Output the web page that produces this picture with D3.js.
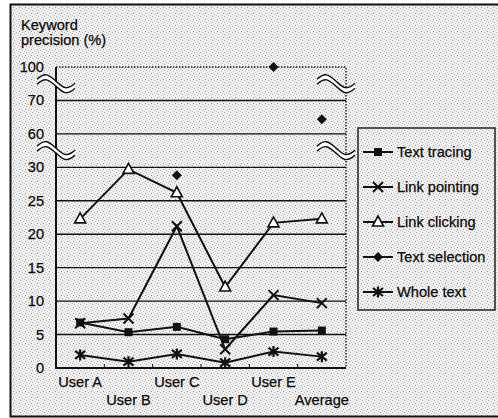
<!DOCTYPE html>
<html>
<head>
<meta charset="utf-8">
<script src="https://cdn.jsdelivr.net/npm/d3@7"></script>
<style>
  body { margin: 0; background: #fff; }
  svg { display: block; font-family: "Liberation Sans", Arial, sans-serif; }
  text { fill: #0a0a0a; font-size: 14.6px; stroke: #0a0a0a; stroke-width: 0.25px; }
</style>
</head>
<body>
<svg></svg>
<script>
'use strict';

// chart data
var categories = ['User A', 'User B', 'User C', 'User D', 'User E', 'Average'];
var yTicks = [0, 5, 10, 15, 20, 25, 30, 60, 70, 100];
var textTracing = [6.8, 5.35, 6.15, 4.3, 5.45, 5.6];
var linkPointing = [6.7, 7.4, 21.2, 2.8, 10.9, 9.7];
var linkClicking = [22.3, 29.7, 26.2, 12.1, 21.7, 22.3];
var textSelection = [null, null, 28.8, null, 100, 64.4];
var wholeText = [1.95, 0.95, 2.1, 0.8, 2.45, 1.7];
var seriesNames = ['Text tracing', 'Link pointing', 'Link clicking', 'Text selection', 'Whole text'];

var series = [
  { name: seriesNames[0], values: textTracing, marker: 'square', line: true },
  { name: seriesNames[1], values: linkPointing, marker: 'cross', line: true },
  { name: seriesNames[2], values: linkClicking, marker: 'triangle', line: true },
  { name: seriesNames[3], values: textSelection, marker: 'diamond', line: false },
  { name: seriesNames[4], values: wholeText, marker: 'star', line: true }
];

var canvasWidth = 498;
var canvasHeight = 418;
var plot = { left: 56, right: 346, top: 67, bottom: 368 };

var svg = d3.select('svg')
  .attr('width', canvasWidth)
  .attr('height', canvasHeight);

// speckled scan background
var pat = svg.append('defs').append('pattern')
  .attr('id', 'speckle')
  .attr('width', 6)
  .attr('height', 6)
  .attr('patternUnits', 'userSpaceOnUse');
pat.append('rect').attr('width', 6).attr('height', 6).attr('fill', '#f1f1f1');
[[1, 1, '#8e8e8e'], [4, 2, '#b8b8b8'], [2, 4, '#a6a6a6'], [5, 5, '#c8c8c8'], [0, 3, '#bdbdbd'], [3, 0, '#d0d0d0']]
  .forEach(function(p) {
    pat.append('rect').attr('x', p[0]).attr('y', p[1]).attr('width', 1).attr('height', 1).attr('fill', p[2]);
  });

svg.append('rect')
  .attr('width', canvasWidth)
  .attr('height', canvasHeight)
  .attr('fill', '#fff');
svg.append('rect')
  .attr('x', 10.5).attr('y', 4.5)
  .attr('width', 492).attr('height', 412)
  .attr('fill', 'url(#speckle)')
  .attr('stroke', '#111')
  .attr('stroke-width', 2);

// scales: broken y axis, each tick is one equal step
var step = (plot.bottom - plot.top) / (yTicks.length - 1);
var yScale = d3.scaleLinear()
  .domain([0, 30, 60, 70, 100])
  .range([plot.bottom, plot.bottom - 6 * step, plot.bottom - 7 * step, plot.bottom - 8 * step, plot.top]);
var xScale = d3.scalePoint()
  .domain(categories)
  .range([plot.left, plot.right])
  .padding(0.5);
var bandW = xScale.step();

// gridlines
svg.append('g')
  .selectAll('line')
  .data(yTicks.filter(function(d) { return d > 0 && d < 100; }))
  .enter().append('line')
  .attr('x1', plot.left).attr('x2', plot.right)
  .attr('y1', function(d) { return yScale(d); })
  .attr('y2', function(d) { return yScale(d); })
  .attr('stroke', '#111')
  .attr('stroke-width', 1.4);

// dotted top and right frame
svg.append('path')
  .attr('d', 'M' + plot.left + ',' + plot.top + 'H' + plot.right + 'V' + plot.bottom)
  .attr('fill', 'none')
  .attr('stroke', '#222')
  .attr('stroke-width', 1.5)
  .attr('stroke-dasharray', '1.5,1.5');

// left and bottom axes
svg.append('path')
  .attr('d', 'M' + plot.left + ',' + plot.top + 'V' + plot.bottom + 'H' + plot.right)
  .attr('fill', 'none')
  .attr('stroke', '#111')
  .attr('stroke-width', 2);

// x tick marks between categories
svg.append('g')
  .selectAll('line')
  .data(categories.slice(1))
  .enter().append('line')
  .attr('x1', function(d) { return xScale(d) - bandW / 2; })
  .attr('x2', function(d) { return xScale(d) - bandW / 2; })
  .attr('y1', plot.bottom)
  .attr('y2', plot.bottom - 4)
  .attr('stroke', '#111')
  .attr('stroke-width', 1);

// y tick labels
svg.append('g')
  .selectAll('text')
  .data(yTicks)
  .enter().append('text')
  .attr('x', 44)
  .attr('y', function(d) { return yScale(d) + 5; })
  .style('text-anchor', 'end')
  .text(function(d) { return d; });

// x labels, staggered in two rows
svg.append('g')
  .selectAll('text')
  .data(categories)
  .enter().append('text')
  .attr('x', function(d) { return xScale(d); })
  .attr('y', function(d, i) { return i % 2 === 0 ? 387 : 405; })
  .style('text-anchor', 'middle')
  .text(function(d) { return d; });

// axis title
svg.append('text').attr('x', 21).attr('y', 30).text('Keyword');
svg.append('text').attr('x', 21).attr('y', 45).text('precision (%)');

// axis break marks
function breakMark(cx, cy) {
  var g = svg.append('g').attr('transform', 'translate(' + cx + ',' + cy + ')');
  var wave = 'M-19,-2 C-10,-10 -7,-6 0,0 S10,10 19,2';
  g.append('path')
    .attr('d', 'M-19,-4 C-10,-12 -7,-8 0,-2 S10,8 19,0 L19,4 C10,12 7,8 0,2 S-10,-8 -19,0 Z')
    .attr('fill', '#fff');
  g.append('path').attr('d', wave).attr('transform', 'translate(0,-2.5)')
    .attr('fill', 'none').attr('stroke', '#111').attr('stroke-width', 1.4);
  g.append('path').attr('d', wave).attr('transform', 'translate(0,2.5)')
    .attr('fill', 'none').attr('stroke', '#111').attr('stroke-width', 1.4);
}
[yScale(85), yScale(45)].forEach(function(y) {
  breakMark(plot.left, y);
  breakMark(plot.right - 10, y);
});

// markers
function drawMarker(g, type) {
  if (type === 'square') {
    g.append('rect').attr('x', -4).attr('y', -4).attr('width', 8).attr('height', 8).attr('fill', '#111');
  } else if (type === 'cross') {
    g.append('path').attr('d', 'M-5,-5L5,5M-5,5L5,-5').attr('stroke', '#111').attr('stroke-width', 2);
  } else if (type === 'triangle') {
    g.append('path').attr('d', 'M0,-6L5.5,4L-5.5,4Z').attr('fill', '#fff').attr('stroke', '#111').attr('stroke-width', 1.6);
  } else if (type === 'diamond') {
    g.append('path').attr('d', 'M0,-5L5,0L0,5L-5,0Z').attr('fill', '#111');
  } else if (type === 'star') {
    g.append('path').attr('d', 'M-5,-4L5,4M-5,4L5,-4M0,-5.5L0,5.5').attr('stroke', '#111').attr('stroke-width', 2.2);
  }
}

var line = d3.line()
  .defined(function(d) { return d !== null; })
  .x(function(d, i) { return xScale(categories[i]); })
  .y(function(d) { return yScale(d); });

series.forEach(function(s) {
  if (s.line) {
    svg.append('path')
      .attr('d', line(s.values))
      .attr('fill', 'none')
      .attr('stroke', '#111')
      .attr('stroke-width', 2);
  }
});
series.forEach(function(s) {
  s.values.forEach(function(v, i) {
    if (v === null) return;
    var g = svg.append('g')
      .attr('transform', 'translate(' + xScale(categories[i]) + ',' + yScale(v) + ')');
    drawMarker(g, s.marker);
  });
});

// legend
var legendBox = { x: 358, y: 128, w: 137, h: 182 };
svg.append('rect')
  .attr('x', legendBox.x).attr('y', legendBox.y)
  .attr('width', legendBox.w).attr('height', legendBox.h)
  .attr('fill', 'url(#speckle)')
  .attr('stroke', '#222')
  .attr('stroke-width', 1.5);

var legend = svg.selectAll('.legend')
  .data(series)
  .enter().append('g')
  .attr('class', 'legend')
  .attr('transform', function(d, i) {
    return 'translate(' + 378 + ',' + (152 + i * 35) + ')';
  });
legend.append('line')
  .attr('x1', -15).attr('x2', 15)
  .attr('stroke', '#111')
  .attr('stroke-width', 2);
legend.each(function(d) { drawMarker(d3.select(this), d.marker); });
legend.append('text')
  .attr('x', 19)
  .attr('y', 5)
  .text(function(d) { return d.name; });
</script>
</body>
</html>
